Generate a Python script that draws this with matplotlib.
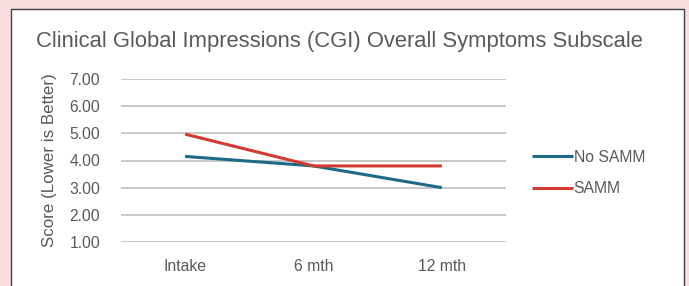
import matplotlib
matplotlib.use("Agg")
import matplotlib.pyplot as plt
from matplotlib.patches import Rectangle

categories = ["Intake", "6 mth", "12 mth"]
no_samm = [4.15, 3.8, 3.0]
samm = [4.97, 3.8, 3.8]
yticks = [1, 2, 3, 4, 5, 6, 7]

plt.rcParams['font.family'] = ['Liberation Sans', 'DejaVu Sans']
W, H = 689, 286
fig = plt.figure(figsize=(W/100, H/100), dpi=100)
fig.patch.set_facecolor("#f9dfdf")
panel = Rectangle((11/W, -0.05), (684-11)/W, 1.05 - 9/H, transform=fig.transFigure,
                  facecolor="white", edgecolor="#404040", linewidth=1.0, zorder=-10)
fig.patches.append(panel)

ax = fig.add_axes([121/W, 1-242/H, (506-121)/W, (242-79)/H])
ax.set_facecolor("none")
ax.set_zorder(5)
x = list(range(len(categories)))
teal = "#1d6a87"
red = "#d33a31"
ax.plot(x, no_samm, color=teal, lw=2.2, label="No SAMM", clip_on=False, zorder=3, solid_capstyle="butt")
ax.plot(x, samm, color=red, lw=2.2, label="SAMM", clip_on=False, zorder=3, solid_capstyle="butt")
ax.set_xlim(-0.5, 2.5)
ax.set_ylim(1, 7)
ax.set_yticks(yticks)
ax.set_yticklabels([f"{v:.2f}" for v in yticks])
ax.set_xticks(x)
ax.set_xticklabels(categories)
ax.grid(axis="y", color="#bfbfbf", lw=1.2)
for s in ax.spines.values():
    s.set_visible(False)
ax.tick_params(length=0, colors="#595959", labelsize=11.3)
ax.tick_params(axis="y", pad=15)
ax.tick_params(axis="x", pad=12)
ax.set_ylabel("Score (Lower is Better)", color="#595959", fontsize=12.2, labelpad=9)
fig.text(36/W, 1-41/H, "Clinical Global Impressions (CGI) Overall Symptoms Subscale",
         color="#595959", fontsize=15.8, va="center", ha="left")
leg = ax.legend(loc="center left", bbox_to_anchor=(518/W, 1-173/H), bbox_transform=fig.transFigure,
                frameon=False, fontsize=11.3, handlelength=2.6, handletextpad=0.05, labelspacing=1.05)
for t in leg.get_texts():
    t.set_color("#595959")
fig.savefig("out.png", dpi=100, facecolor=fig.get_facecolor())
